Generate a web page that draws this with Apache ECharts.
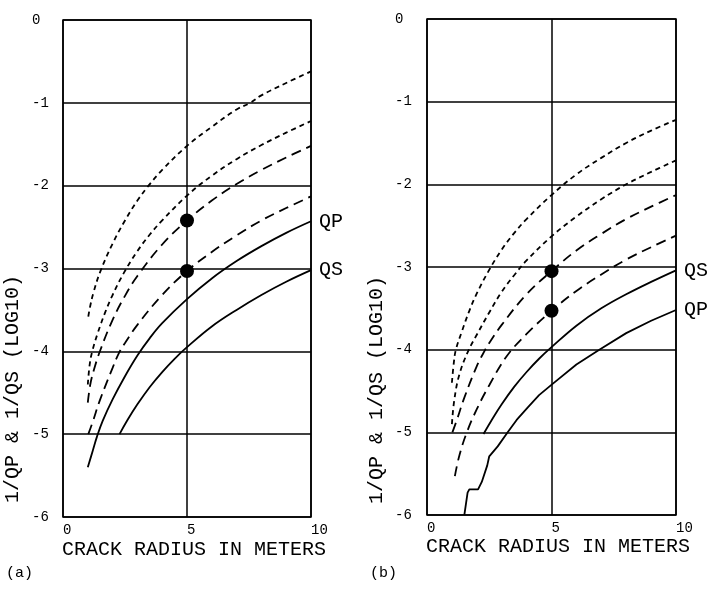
<!DOCTYPE html>
<html lang="en">
<head>
<meta charset="UTF-8">
<title>Q vs crack radius</title>
<script src="https://cdn.jsdelivr.net/npm/echarts@6/dist/echarts.min.js"></script>
<style>
  html, body { margin: 0; padding: 0; background: #fff; }
  #chart { width: 707px; height: 593px; }
</style>
</head>
<body>
<div id="chart"></div>
<script>
// axis ticks
var xTicks = [0, 5, 10];
var yTicks = [-6, -5, -4, -3, -2, -1, 0];

// panel (a) curves, [radius, log10(1/Q)]
var aShort1 = [[1.02,-3.58],[1.1,-3.45],[1.22,-3.3],[1.5,-3.04],[2,-2.7],[2.5,-2.42],[3,-2.18],[3.45,-2.0],[4,-1.81],[5,-1.52],[6,-1.29],[7,-1.08],[7.55,-1.0],[8,-0.91],[9,-0.76],[10,-0.62]];
var aShort2 = [[1.0,-4.4],[1.08,-4.15],[1.18,-4.0],[1.4,-3.78],[1.7,-3.53],[2,-3.32],[2.46,-3.05],[3,-2.79],[3.5,-2.59],[4,-2.42],[5,-2.12],[6,-1.88],[7,-1.68],[8,-1.51],[9,-1.36],[10,-1.22]];
var aLong1 = [[1.0,-4.62],[1.1,-4.4],[1.25,-4.22],[1.5,-3.99],[2,-3.62],[2.5,-3.33],[3,-3.09],[4,-2.71],[5,-2.42],[6,-2.18],[7,-1.98],[8,-1.81],[9,-1.66],[10,-1.52]];
var aLong2 = [[1.02,-5.0],[1.2,-4.85],[1.5,-4.58],[2,-4.2],[2.24,-4.03],[2.5,-3.9],[3,-3.68],[4,-3.32],[5,-3.03],[6,-2.8],[7,-2.6],[8,-2.42],[9,-2.27],[10,-2.13]];
var aSolidQP = [[1.0,-5.4],[1.2,-5.2],[1.37,-5.03],[1.6,-4.84],[2,-4.58],[2.5,-4.3],[3,-4.05],[3.5,-3.84],[4,-3.66],[5,-3.37],[6,-3.12],[7,-2.91],[8,-2.73],[9,-2.57],[10,-2.43]];
var aSolidQS = [[2.28,-5.0],[2.6,-4.83],[3,-4.64],[3.5,-4.43],[4,-4.25],[4.5,-4.09],[5,-3.95],[6,-3.7],[7,-3.5],[8,-3.32],[9,-3.16],[10,-3.02]];
var aDots = [[5,-2.42],[5,-3.03]];

// panel (b) curves
var bShort1 = [[1.0,-4.4],[1.08,-4.15],[1.16,-4.0],[1.4,-3.78],[1.7,-3.53],[2,-3.32],[2.47,-3.05],[3,-2.79],[3.5,-2.59],[4,-2.42],[5,-2.13],[6,-1.88],[7,-1.68],[8,-1.5],[9,-1.35],[10,-1.22]];
var bShort2 = [[1.0,-4.9],[1.1,-4.6],[1.3,-4.3],[1.65,-4.02],[2,-3.82],[2.5,-3.55],[3,-3.3],[3.5,-3.1],[4,-2.92],[5,-2.63],[6,-2.39],[7,-2.18],[8,-2.0],[9,-1.85],[10,-1.71]];
var bLong1 = [[1.02,-5.0],[1.2,-4.85],[1.5,-4.58],[2,-4.2],[2.34,-4.0],[2.5,-3.92],[3,-3.7],[4,-3.33],[5,-3.05],[6,-2.8],[7,-2.6],[8,-2.42],[9,-2.27],[10,-2.13]];
var bLong2 = [[1.12,-5.53],[1.3,-5.28],[1.6,-5.0],[2,-4.72],[2.5,-4.43],[3.2,-4.08],[4,-3.81],[5,-3.53],[6,-3.29],[7,-3.09],[8,-2.91],[9,-2.76],[10,-2.62]];
var bSolidQS = [[2.27,-5.02],[2.6,-4.85],[3,-4.66],[3.5,-4.45],[4,-4.27],[4.5,-4.11],[5,-3.97],[6,-3.71],[7,-3.5],[8,-3.33],[9,-3.18],[10,-3.04]];
var bSolidQP = [[1.5,-6.0],[1.63,-5.73],[1.7,-5.69],[2.05,-5.69],[2.2,-5.6],[2.42,-5.4],[2.5,-5.29],[2.84,-5.17],[3.24,-5.0],[3.6,-4.85],[4.04,-4.7],[4.5,-4.55],[5.02,-4.42],[6,-4.18],[6.92,-4.0],[8,-3.8],[9,-3.65],[10,-3.52]];
var bDots = [[5,-3.05],[5,-3.53]];

var FONT = '"Liberation Mono", "DejaVu Sans Mono", monospace';
var SHORT = [5, 4];
var LONG = [10, 6];

function curve(idx, data, dash, label, smooth) {
	var s = {
		type: 'line',
		xAxisIndex: idx,
		yAxisIndex: idx,
		data: data,
		showSymbol: false,
		silent: true,
		smooth: smooth === undefined ? 0.4 : smooth,
		lineStyle: { color: '#000', width: 1.8, type: dash }
	};
	if (label) {
		s.endLabel = {
			show: true,
			formatter: label,
			color: '#000',
			fontFamily: FONT,
			fontSize: 20,
			distance: 8
		};
	}
	return s;
}

function dots(idx, data) {
	return {
		type: 'scatter',
		xAxisIndex: idx,
		yAxisIndex: idx,
		data: data,
		symbolSize: 14,
		itemStyle: { color: '#000', opacity: 1, borderWidth: 0 },
		silent: true,
		z: 5
	};
}

function xAxis(idx) {
	return {
		type: 'value', gridIndex: idx,
		min: xTicks[0], max: xTicks[xTicks.length - 1], interval: 5,
		axisLine: { show: false },
		axisTick: { show: false },
		splitLine: { show: true, lineStyle: { color: '#000', width: 1.5 } },
		axisLabel: { color: '#000', fontFamily: FONT, fontSize: 14, align: 'left', margin: 6 }
	};
}

function yAxis(idx, margin) {
	return {
		type: 'value', gridIndex: idx,
		min: yTicks[0], max: yTicks[yTicks.length - 1], interval: 1,
		axisLine: { show: false },
		axisTick: { show: false },
		splitLine: { show: true, lineStyle: { color: '#000', width: 1.5 } },
		axisLabel: { color: '#000', fontFamily: FONT, fontSize: 14, align: 'left', margin: margin }
	};
}

function txt(x, y, text, size, rot) {
	return {
		type: 'text', x: x, y: y, rotation: rot || 0,
		style: {
			text: text, fill: '#000', font: size + 'px ' + FONT,
			textAlign: rot ? 'center' : 'left', align: rot ? 'center' : 'left',
			textVerticalAlign: 'middle', verticalAlign: 'middle'
		}
	};
}

var chart = echarts.init(document.getElementById('chart'));
chart.setOption({
	backgroundColor: '#fff',
	animation: false,
	grid: [
		{ left: 63, top: 20, width: 248, height: 497, show: true, borderColor: '#000', borderWidth: 1.5 },
		{ left: 427, top: 19, width: 249, height: 496, show: true, borderColor: '#000', borderWidth: 1.5 }
	],
	xAxis: [xAxis(0), xAxis(1)],
	yAxis: [yAxis(0, 31), yAxis(1, 32)],
	series: [
		curve(0, aShort1, SHORT),
		curve(0, aShort2, SHORT),
		curve(0, aLong1, LONG),
		curve(0, aLong2, LONG),
		curve(0, aSolidQP, 'solid', 'QP'),
		curve(0, aSolidQS, 'solid', 'QS'),
		dots(0, aDots),
		curve(1, bShort1, SHORT),
		curve(1, bShort2, SHORT),
		curve(1, bLong1, LONG),
		curve(1, bLong2, LONG),
		curve(1, bSolidQS, 'solid', 'QS'),
		curve(1, bSolidQP, 'solid', 'QP', false),
		dots(1, bDots)
	],
	graphic: [
		txt(62, 550, 'CRACK RADIUS IN METERS', 20),
		txt(426, 547, 'CRACK RADIUS IN METERS', 20),
		txt(13, 389, '1/QP & 1/QS (LOG10)', 20, Math.PI / 2),
		txt(377, 390, '1/QP & 1/QS (LOG10)', 20, Math.PI / 2),
		txt(6, 573, '(a)', 15),
		txt(370, 573, '(b)', 15)
	]
});
</script>
</body>
</html>
